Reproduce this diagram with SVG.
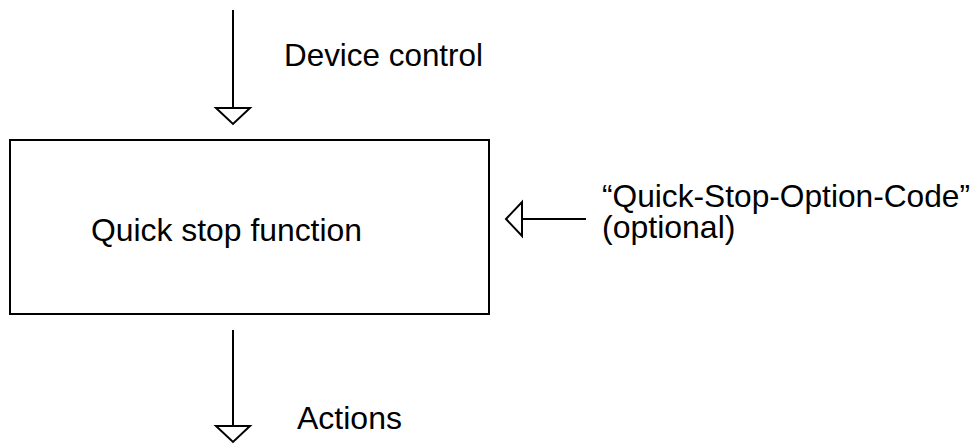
<svg xmlns="http://www.w3.org/2000/svg" width="977" height="444" viewBox="0 0 977 444">
<style>
text{font-family:"Liberation Sans",Arial,sans-serif;font-size:32px;fill:#000}
.ln{stroke:#000;stroke-width:2;fill:none}
.hd{stroke:#000;stroke-width:2;fill:#fff;stroke-linejoin:miter}
</style>
<rect width="977" height="444" fill="#fff"/>
<g id="connectors">
<line class="ln" x1="233" y1="10" x2="233" y2="108"/>
<polygon class="hd" points="216,108 250,108 233,124"/>
<line class="ln" x1="522" y1="219" x2="586" y2="219"/>
<polygon class="hd" points="522,202 522,236 506,219"/>
<line class="ln" x1="233" y1="330" x2="233" y2="426"/>
<polygon class="hd" points="216,426 250,426 233,442"/>
</g>
<g id="node-quickstop">
<rect x="10" y="140" width="479" height="174" fill="#fff" stroke="#000" stroke-width="2"/>
<text x="91" y="241" textLength="271" lengthAdjust="spacingAndGlyphs">Quick stop function</text>
</g>
<g id="label-device">
<text x="284" y="66" textLength="199" lengthAdjust="spacingAndGlyphs">Device control</text>
</g>
<g id="label-option">
<text x="602" y="207" textLength="368" lengthAdjust="spacingAndGlyphs">“Quick-Stop-Option-Code”</text>
<text x="602" y="238">(optional)</text>
</g>
<g id="label-actions">
<text x="297" y="429">Actions</text>
</g>
</svg>
